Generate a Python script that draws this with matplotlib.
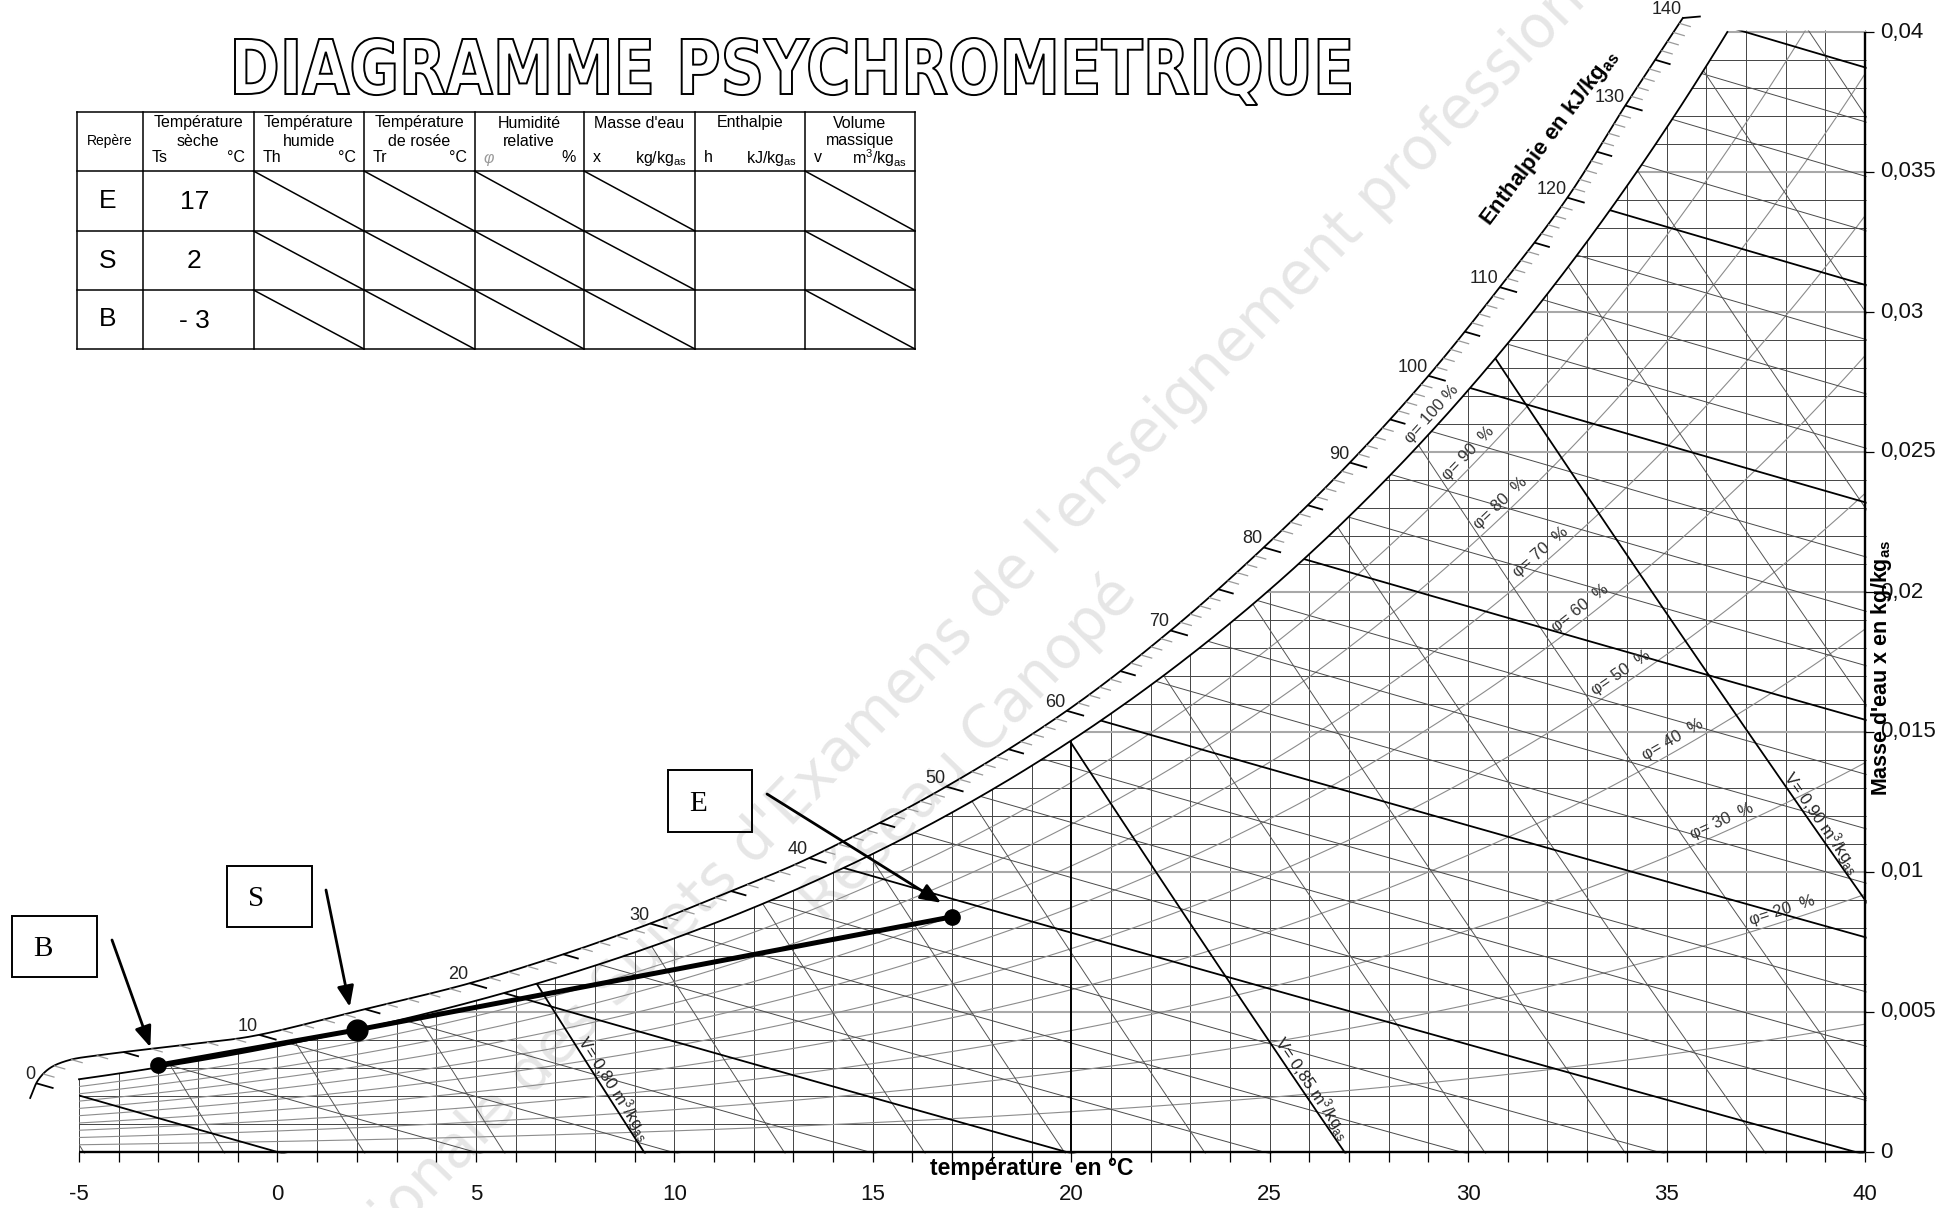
import numpy as np
import matplotlib
matplotlib.use("Agg")
import matplotlib.pyplot as plt
from matplotlib.collections import LineCollection
from matplotlib.patches import Polygon, Rectangle, PathPatch
from matplotlib.textpath import TextPath
from matplotlib.font_manager import FontProperties
from matplotlib.transforms import Affine2D

plt.rcParams["font.family"] = ["Liberation Sans", "DejaVu Sans"]
plt.rcParams["mathtext.fontset"] = "custom"
plt.rcParams["mathtext.rm"] = "Liberation Sans"
plt.rcParams["mathtext.it"] = "Liberation Sans:italic"
plt.rcParams["mathtext.bf"] = "Liberation Sans:bold"

# ------------------------------------------------------------------ data
sat_temps = list(range(-5, 41))
sat_pressure_kpa = [0.4215, 0.4547, 0.4900, 0.5275, 0.5678, 0.6112, 0.6571, 0.7060,
                    0.7581, 0.8135, 0.8725, 0.9353, 1.0020, 1.0729, 1.1481, 1.2280,
                    1.3128, 1.4026, 1.4979, 1.5987, 1.7055, 1.8185, 1.9380, 2.0643,
                    2.1979, 2.3389, 2.4878, 2.6448, 2.8105, 2.9852, 3.1693, 3.3633,
                    3.5674, 3.7823, 4.0084, 4.2462, 4.4961, 4.7586, 5.0345, 5.3242,
                    5.6280, 5.9468, 6.2812, 6.6315, 6.9988, 7.3838]
P_ATM = 101.325

rh_levels = [10, 20, 30, 40, 50, 60, 70, 80, 90]
rh_label_levels = [100, 90, 80, 70, 60, 50, 40, 30, 20]
rh_label_temps = [29.3, 30.2, 31.0, 32.0, 33.0, 34.0, 35.3, 36.5, 38.0]

enthalpy_lines = list(range(0, 145, 5))
enthalpy_bold = [0, 20, 40, 60, 80, 100, 120, 140]
volume_lines = [0.76, 0.77, 0.78, 0.79, 0.80, 0.81, 0.82, 0.83, 0.84, 0.85,
                0.86, 0.87, 0.88, 0.89, 0.90, 0.91, 0.92, 0.93, 0.94]
volume_bold = [0.80, 0.85, 0.90]
volume_label_levels = [0.80, 0.85, 0.90]
volume_label_text = ["0,80", "0,85", "0,90"]
volume_label_x = [0.0021, 0.0021, 0.0116]

temp_grid = list(range(-5, 41))
temp_bold = [20]
temp_tick_labels = [-5, 0, 5, 10, 15, 20, 25, 30, 35, 40]
x_grid = [k / 1000 for k in range(1, 41)]
x_tick_values = [0, 0.005, 0.01, 0.015, 0.02, 0.025, 0.03, 0.035, 0.04]
x_tick_labels = ["0", "0,005", "0,01", "0,015", "0,02", "0,025", "0,03", "0,035", "0,04"]

# enthalpy scale band (outer edge)
scale_T = [-6.23, -6.03, -5.73, -5.23, -4.47, -3.64, -1.95, -0.62, 2.2, 4.8, 7.2,
           9.39, 11.43, 13.4, 16.85, 19.89, 22.5, 24.85, 27.02, 29.0, 30.8, 32.5,
           33.95, 35.41]
scale_x = [0.00193, 0.00257, 0.00300, 0.00329, 0.00346, 0.00361, 0.00389, 0.00414,
           0.0051, 0.00601, 0.00706, 0.00816, 0.00932, 0.0105, 0.01305, 0.01576,
           0.01862, 0.02159, 0.02462, 0.02772, 0.03089, 0.03408, 0.03735, 0.0405]
scale_ticks = list(range(0, 141))

point_names = ["B", "S", "E"]
point_T = [-3.0, 2.0, 17.0]
point_x = [0.0031, 0.00436, 0.0084]

table_rows = ["E", "S", "B"]
table_ts = ["17", "2", "- 3"]
header_lines = [["Température", "sèche"], ["Température", "humide"],
                ["Température", "de rosée"], ["Humidité", "relative"],
                ["Masse d'eau"], ["Enthalpie"], ["Volume", "massique"]]
header_sym = ["Ts", "Th", "Tr", "φ", "x", "h", "v"]
header_unit = ["°C", "°C", "°C", "%", r"kg/kg$_{\mathrm{as}}$",
               r"kJ/kg$_{\mathrm{as}}$", r"m$^{3}$/kg$_{\mathrm{as}}$"]
hatched_cols = [2, 3, 4, 5, 7]

watermark = ["Base Nationale des Sujets d'Examens de l'enseignement professionnel",
             "Réseau Canopé"]

# ------------------------------------------------------------------ layout
W, H, DPI = 1939, 1208, 100
PX_T = (1865 - 79) / 45.0      # pixels per degC
PX_X = 28000.0                 # pixels per kg/kg

fig = plt.figure(figsize=(W / DPI, H / DPI), dpi=DPI)
fig.patch.set_facecolor("white")
ax = fig.add_axes([0, 0, 1, 1])
ax.set_xlim(-5 - 79 / PX_T, -5 + (W - 79) / PX_T)
ax.set_ylim(-(H - 1152) / PX_X, 1152 / PX_X)
ax.axis("off")
ov = fig.add_axes([0, 0, 1, 1])
ov.set_xlim(0, W)
ov.set_ylim(H, 0)
ov.axis("off")


def p_sat(T):
    return np.exp(np.interp(T, sat_temps, np.log(sat_pressure_kpa)))


def x_rh(T, phi):
    pv = phi * p_sat(T)
    return 0.622 * pv / (P_ATM - pv)


def x_of_h(T, h):
    return (h - 1.006 * T) / (2501.0 + 1.86 * T)


def x_of_v(T, v):
    return (v * P_ATM / (0.287055 * (np.asarray(T) + 273.15)) - 1.0) / 1.608


def centripetal_cr(P, n=24, alpha=0.5):
    P = np.asarray(P, float)
    ext = np.vstack([2 * P[0] - P[1], P, 2 * P[-1] - P[-2]])
    out = []
    for i in range(1, len(ext) - 2):
        p0, p1, p2, p3 = ext[i - 1], ext[i], ext[i + 1], ext[i + 2]
        t0 = 0.0
        t1 = t0 + np.linalg.norm(p1 - p0) ** alpha
        t2 = t1 + np.linalg.norm(p2 - p1) ** alpha
        t3 = t2 + np.linalg.norm(p3 - p2) ** alpha
        t = np.linspace(t1, t2, n, endpoint=False)[:, None]
        A1 = (t1 - t) / (t1 - t0) * p0 + (t - t0) / (t1 - t0) * p1
        A2 = (t2 - t) / (t2 - t1) * p1 + (t - t1) / (t2 - t1) * p2
        A3 = (t3 - t) / (t3 - t2) * p2 + (t - t2) / (t3 - t2) * p3
        B1 = (t2 - t) / (t2 - t0) * A1 + (t - t0) / (t2 - t0) * A2
        B2 = (t3 - t) / (t3 - t1) * A2 + (t - t1) / (t3 - t1) * A3
        out.append((t2 - t) / (t2 - t1) * B1 + (t - t1) / (t2 - t1) * B2)
    out.append(P[-1:])
    return np.vstack(out)


# ------------------------------------------------------------------ saturation & clip
T_f = np.linspace(-5, 40, 1801)
xs_f = x_rh(T_f, 1.0)
x_top = 0.04
m = xs_f <= x_top
T_top = np.interp(x_top, xs_f, T_f)
sat_T = np.concatenate([T_f[m], [T_top]])
sat_X = np.concatenate([xs_f[m], [x_top]])
eps_x = 1.5 / PX_X
clip_poly = [(-5, -eps_x)] + list(zip(sat_T[:-1], sat_X[:-1])) + \
            [(T_top, x_top + eps_x), (40.04, x_top + eps_x), (40.04, -eps_x)]
clip_patch = Polygon(clip_poly, closed=True, transform=ax.transData)


def add_lines(segs, color, lw, z=2):
    lc = LineCollection(segs, colors=color, linewidths=lw, zorder=z, capstyle="butt")
    ax.add_collection(lc)
    lc.set_clip_path(clip_patch)


# vertical temperature lines
add_lines([[(t, 0), (t, 0.05)] for t in temp_grid if t not in temp_bold], "#444444", 0.7)
add_lines([[(t, 0), (t, 0.05)] for t in temp_bold], "black", 1.4, z=3)
# horizontal moisture lines
add_lines([[(-7, xv), (42, xv)] for k, xv in enumerate(x_grid, 1) if k % 5], "#444444", 0.7)
add_lines([[(-7, xv), (42, xv)] for k, xv in enumerate(x_grid, 1) if k % 5 == 0], "#a8a8a8", 1.5)
# relative humidity curves
add_lines([np.column_stack([T_f, x_rh(T_f, p / 100.0)]) for p in rh_levels], "#8c8c8c", 0.8)
# enthalpy lines
T_l = np.linspace(-7, 42, 60)
add_lines([np.column_stack([T_l, x_of_h(T_l, h)]) for h in enthalpy_lines if h not in enthalpy_bold],
          "#4a4a4a", 0.7)
add_lines([np.column_stack([T_l, x_of_h(T_l, h)]) for h in enthalpy_bold], "black", 1.3, z=3)
# specific volume lines
add_lines([np.column_stack([T_l, x_of_v(T_l, v)]) for v in volume_lines
           if not any(abs(v - b) < 1e-6 for b in volume_bold)], "#555555", 0.7)
add_lines([np.column_stack([T_l, x_of_v(T_l, v)]) for v in volume_bold], "black", 1.3, z=3)

# saturation curve
ax.plot(sat_T, sat_X, color="black", lw=1.3, zorder=4)

# axes
ax.plot([-5, 40], [0, 0], color="black", lw=1.7, zorder=5, solid_capstyle="butt")
ax.plot([40, 40], [0, 0.04], color="black", lw=1.7, zorder=5, solid_capstyle="butt")
tick_len_x = 10 / PX_X
ax.add_collection(LineCollection([[(t, 0), (t, -tick_len_x)] for t in temp_grid],
                                 colors="black", linewidths=0.9, zorder=5))
tick_len_t = 9 / PX_T
ax.add_collection(LineCollection([[(40, v), (40 + tick_len_t, v)] for v in x_tick_values],
                                 colors="black", linewidths=0.9, zorder=5))
for t in temp_tick_labels:
    ax.annotate(str(t), xy=(t, 0), xytext=(0, -43), textcoords="offset pixels",
                ha="center", va="center", fontsize=16, color="#111")
for v, lab in zip(x_tick_values, x_tick_labels):
    ax.annotate(lab, xy=(40, v), xytext=(15, 0), textcoords="offset pixels",
                ha="left", va="center", fontsize=16, color="#111")

# ------------------------------------------------------------------ enthalpy scale band
sp = ax.transData.transform(np.column_stack([scale_T, scale_x]))
dense = ax.transData.inverted().transform(centripetal_cr(sp, 30))
bT, bX = dense[:, 0], dense[:, 1]
ax.plot(bT, bX, color="black", lw=1.3, zorder=4)
bH = np.maximum.accumulate(1.006 * bT + bX * (2501 + 1.86 * bT))
light, dark = [], []
for h in scale_ticks:
    Th = np.interp(h, bH, bT)
    Xh = np.interp(h, bH, bX)
    p0 = ax.transData.transform((Th, Xh))
    p1 = ax.transData.transform((Th + 0.3, x_of_h(Th + 0.3, h)))
    u = (p1 - p0) / np.linalg.norm(p1 - p0)
    L = 18 if h % 10 == 0 else (16 if h % 5 == 0 else 12)
    q = ax.transData.inverted().transform([p0, p0 + u * L])
    (dark if h % 5 == 0 else light).append(q)
    if h % 10 == 0:
        ax.annotate(str(h), xy=(Th, Xh), xytext=(-1, 4), textcoords="offset pixels",
                    ha="right", va="baseline", fontsize=13, color="#222", zorder=6)
ax.add_collection(LineCollection(light, colors="#9a9a9a", linewidths=0.9, zorder=4))
ax.add_collection(LineCollection(dark, colors="black", linewidths=1.3, zorder=4))

# ------------------------------------------------------------------ curve labels
for phi, Tl in zip(rh_label_levels, rh_label_temps):
    xl = x_rh(Tl, phi / 100.0)
    p0 = ax.transData.transform((Tl, xl))
    p1 = ax.transData.transform((Tl + 0.2, x_rh(Tl + 0.2, phi / 100.0)))
    a = np.arctan2(p1[1] - p0[1], p1[0] - p0[0])
    off = 11 * np.array([-np.sin(a), np.cos(a)])
    txt = f"φ= {phi} %" if phi == 100 else f"φ= {phi}  %"
    ax.annotate(txt, xy=(Tl, xl), xytext=off, textcoords="offset pixels",
                rotation=np.degrees(a), rotation_mode="anchor", ha="center", va="center",
                fontsize=12, color="#333", zorder=6)

for v, vt, xv in zip(volume_label_levels, volume_label_text, volume_label_x):
    Tv = v * P_ATM / (0.287055 * (1 + 1.608 * xv)) - 273.15
    p0 = ax.transData.transform((Tv, xv))
    p1 = ax.transData.transform((Tv + 0.2, x_of_v(Tv + 0.2, v)))
    a = np.arctan2(p1[1] - p0[1], p1[0] - p0[0])
    off = 9 * np.array([-np.sin(a), np.cos(a)])
    ax.annotate(f"V= {vt} m$^{{3}}$/kg$_{{\\mathrm{{as}}}}$", xy=(Tv, xv), xytext=off,
                textcoords="offset pixels", rotation=np.degrees(a), rotation_mode="anchor",
                ha="center", va="center", fontsize=12, color="#222", zorder=6)

# axis titles
ov.text(1032, 1168, "température  en °C", ha="center", va="center",
        fontsize=16.5, fontweight="bold", zorder=6)
ov.text(1882, 668, r"Masse d'eau x en kg/kg$_{\mathbf{as}}$", ha="center", va="center",
        rotation=90, fontsize=15.5, fontweight="bold", zorder=6)
ov.text(1549, 138, r"Enthalpie en kJ/kg$_{\mathbf{as}}$", ha="center", va="center",
        rotation=53, rotation_mode="anchor", fontsize=16, fontweight="bold", zorder=6)

# ------------------------------------------------------------------ process line & points
ax.plot(point_T, point_x, color="black", lw=3.6, solid_capstyle="round", zorder=7)
for T, xv, ms in zip(point_T, point_x, [11, 15, 11]):
    ax.plot([T], [xv], "o", ms=ms, color="black", zorder=8)

boxes = [(12, 916, 97, 977), (227, 866, 312, 927), (668, 770, 752, 832)]
arrow_start = [(112, 940), (326, 890), (767, 794)]
arrow_tip_offset = [(-8, -18), (-7, -23), (-11, -14)]
for name, T, xv, bx, st, off in zip(point_names, point_T, point_x, boxes, arrow_start, arrow_tip_offset):
    d = ax.transData.transform((T, xv))
    tip = (d[0] + off[0], H - d[1] + off[1])
    ov.add_patch(Rectangle((bx[0], bx[1]), bx[2] - bx[0], bx[3] - bx[1], fill=False,
                           lw=1.4, edgecolor="black", zorder=8))
    ov.text(bx[0] + 21, (bx[1] + bx[3]) / 2 + 10, name, family="Liberation Serif",
            fontsize=21, ha="left", va="baseline", zorder=8)
    ov.annotate("", xy=tip, xytext=st,
                arrowprops=dict(arrowstyle="-|>,head_length=0.7,head_width=0.28",
                                color="black", lw=2.0, mutation_scale=18,
                                shrinkA=0, shrinkB=0), zorder=8)

# ------------------------------------------------------------------ watermark
for s, (cx, cy) in zip(watermark, [(919, 671), (968, 748)]):
    ax.text(cx, cy, s, transform=ov.transData, rotation=46, rotation_mode="anchor",
            ha="center", va="center", fontsize=42, color="#e6e6e6", zorder=0.5,
            family="DejaVu Sans")

# ------------------------------------------------------------------ table
cols = [77, 143, 253.5, 364, 474.5, 584, 695, 805, 915]
rows = [112, 171, 231, 290, 349]
for cx in cols:
    ov.plot([cx, cx], [rows[0], rows[-1]], color="black", lw=1.1)
for ry in rows:
    ov.plot([cols[0], cols[-1]], [ry, ry], color="black", lw=1.1)
for r in range(1, 4):
    for c in hatched_cols:
        ov.plot([cols[c], cols[c + 1]], [rows[r], rows[r + 1]], color="black", lw=1.1)
ov.text((cols[0] + cols[1]) / 2, 141.5, "Repère", ha="center", va="center", fontsize=10)
for i in range(7):
    l, rgt = cols[i + 1], cols[i + 2]
    for k, s in enumerate(header_lines[i]):
        ov.text((l + rgt) / 2, 123 + 18 * k, s, ha="center", va="center", fontsize=11.5)
    ov.text(l + 9, 158, header_sym[i], ha="left", va="center", fontsize=11.5,
            color="#999" if header_sym[i] == "φ" else "black",
            style="italic" if header_sym[i] == "φ" else "normal")
    ov.text(rgt - 8, 158, header_unit[i], ha="right", va="center", fontsize=11.5)
for r, (lab, ts) in enumerate(zip(table_rows, table_ts)):
    yc = (rows[r + 1] + rows[r + 2]) / 2
    ov.text((cols[0] + cols[1]) / 2 - 2, yc, lab, ha="center", va="center", fontsize=19)
    ov.text((cols[1] + cols[2]) / 2 - 4, yc + 1, ts, ha="center", va="center", fontsize=19)

# ------------------------------------------------------------------ title
title = "DIAGRAMME PSYCHROMETRIQUE"
fp = FontProperties(family="DejaVu Sans", weight="bold")
tp = TextPath((0, 0), title, size=100, prop=fp)
bb = tp.get_extents()
cap = TextPath((0, 0), "DIAGRAMME", size=100, prop=fp).get_extents().y1
tx0, tx1, base_y, cap_px = 235, 1350, 94, 56
sx = (tx1 - tx0) / bb.width
sy = cap_px / cap
tr = Affine2D().translate(-bb.x0, 0).scale(sx, -sy).translate(tx0, base_y) + ov.transData
ov.add_patch(PathPatch(tp, transform=tr, facecolor="white", edgecolor="black", lw=1.4, zorder=9))

fig.savefig("out.png", dpi=DPI, facecolor="white")
